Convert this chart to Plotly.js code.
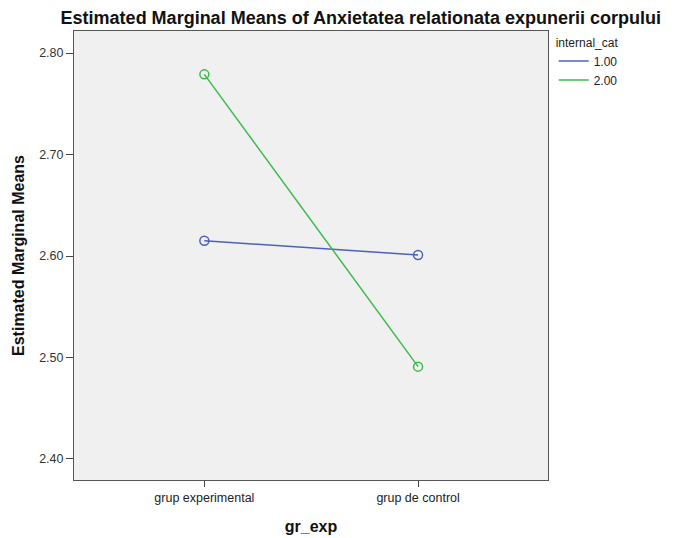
<!DOCTYPE html>
<html>
<head>
<meta charset="utf-8">
<script src="https://cdn.plot.ly/plotly-3.0.1.min.js"></script>
<style>html,body{margin:0;padding:0;background:#fff;}#chart{width:677px;height:538px;}</style>
</head>
<body>
<div id="chart"></div>
<script>
const categories = ["grup experimental", "grup de control"];
const seriesNames = ["1.00", "2.00"];
const series1 = [2.615, 2.601];
const series2 = [2.779, 2.491];
const yTickVals = [2.40, 2.50, 2.60, 2.70, 2.80];
const yTickText = ["2.40", "2.50", "2.60", "2.70", "2.80"];

const font = "Liberation Sans, Arial, sans-serif";
const colors = ["#4b62b8", "#3dba4c"];
const xIdx = categories.map((c, i) => i);

const lineTraces = [series1, series2].map((vals, k) => ({
  x: xIdx,
  y: vals,
  name: seriesNames[k],
  type: "scatter",
  mode: "lines",
  line: {color: colors[k], width: 1.5}
}));
const markerTraces = [series1, series2].map((vals, k) => ({
  x: xIdx,
  y: vals,
  name: seriesNames[k],
  type: "scatter",
  mode: "markers",
  showlegend: false,
  marker: {symbol: "circle-open", size: 9, color: colors[k], line: {width: 1.5}}
}));

const layout = {
  width: 677, height: 538,
  margin: {l: 74, r: 129, t: 31, b: 58},
  paper_bgcolor: "#ffffff",
  plot_bgcolor: "#f0f0f0",
  font: {family: font, color: "#222"},
  title: {
    text: "<b>Estimated Marginal Means of Anxietatea relationata expunerii corpului</b>",
    font: {family: font, size: 18, color: "#111"},
    x: 0.533, xanchor: "center", y: 0.968, yanchor: "middle", yref: "container"
  },
  showlegend: true,
  legend: {
    title: {text: "internal_cat", font: {family: font, size: 12, color: "#222"}},
    x: 1.012, xanchor: "left", y: 1.0, yanchor: "top",
    font: {family: font, size: 12, color: "#222"},
    bgcolor: "rgba(0,0,0,0)", itemwidth: 30, tracegroupgap: 0
  },
  xaxis: {
    range: [-0.61, 1.608],
    tickmode: "array", tickvals: xIdx, ticktext: categories,
    ticks: "outside", ticklen: 6, tickcolor: "#444", tickwidth: 1,
    tickfont: {family: font, size: 12.5, color: "#222"},
    showgrid: false, zeroline: false,
    showline: true, linecolor: "#555", linewidth: 1, mirror: true,
    title: {text: "<b>gr_exp</b>", font: {family: font, size: 16, color: "#111"}, standoff: 16}
  },
  yaxis: {
    range: [2.3793, 2.8217],
    tickmode: "array", tickvals: yTickVals, ticktext: yTickText,
    ticks: "outside", ticklen: 7, tickcolor: "#444", tickwidth: 1,
    tickfont: {family: font, size: 12.5, color: "#333"},
    showgrid: false, zeroline: false,
    showline: true, linecolor: "#555", linewidth: 1, mirror: true,
    title: {text: "<b>Estimated Marginal Means</b>", font: {family: font, size: 16, color: "#111"}, standoff: 10}
  }
};

Plotly.newPlot("chart", lineTraces.concat(markerTraces), layout, {displayModeBar: false, staticPlot: true});
</script>
</body>
</html>
